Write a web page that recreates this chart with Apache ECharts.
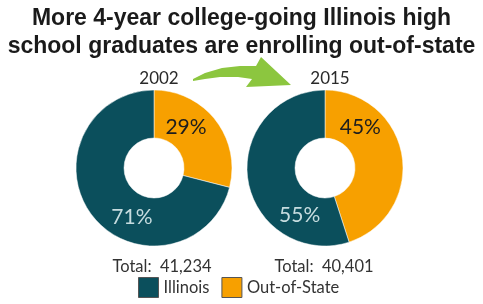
<!DOCTYPE html>
<html>
<head>
<meta charset="utf-8">
<script src="https://cdn.jsdelivr.net/npm/echarts@6/dist/echarts.min.js"></script>
<style>
  html, body { margin: 0; padding: 0; background: #fff; }
  #chart1 { width: 483px; height: 304px; }
</style>
</head>
<body>
<div id="chart1"></div>
<script>
// data
var years = ['2002', '2015'];
var groups = ['Out-of-State', 'Illinois'];
var outOfState = [29, 45];
var illinois = [71, 55];
var totals = ['41,234', '40,401'];

var teal = '#0b4f5c';
var orange = '#f7a000';

var chart = echarts.init(document.getElementById('chart1'));

var centers = [[154, 168], [325, 168]];
// nudges so the % labels sit where the original put them
var outOffset = [[-13, -6], [-21, -32]];
var ilOffset = [[23, 14], [31, 38]];

var series = years.map(function (y, i) {
  return {
    name: y,
    type: 'pie',
    center: centers[i],
    radius: [30, 78],
    startAngle: 90,
    clockwise: true,
    animation: false,
    silent: true,
    itemStyle: { borderColor: '#fff', borderWidth: 0.5 },
    labelLine: { show: false },
    label: {
      show: true,
      position: 'inside',
      formatter: '{c}%',
      fontFamily: 'Lato',
      fontSize: 21
    },
    data: [
      { name: groups[0], value: outOfState[i], itemStyle: { color: orange },
        label: { color: '#1d1d1d', offset: outOffset[i] } },
      { name: groups[1], value: illinois[i], itemStyle: { color: teal },
        label: { color: '#c6dcdf', offset: ilOffset[i] } }
    ]
  };
});

var titles = [{
  text: 'More 4-year college-going Illinois high\nschool graduates are enrolling out-of-state',
  left: 'center',
  top: 0,
  textStyle: { fontFamily: 'Liberation Sans', fontWeight: 'bold', fontSize: 23, lineHeight: 28, color: '#1a1a1a' }
}];
years.forEach(function (y, i) {
  titles.push({
    text: y,
    left: centers[i][0],
    top: 65,
    textAlign: 'center',
    textStyle: { fontFamily: 'Lato', fontWeight: 'normal', fontSize: 17, color: '#2a2a2a' }
  });
  titles.push({
    text: 'Total:  ' + totals[i],
    left: centers[i][0] + (i === 0 ? 3 : -6),
    top: 253,
    textAlign: 'center',
    textStyle: { fontFamily: 'Lato', fontWeight: 'normal', fontSize: 16.5, color: '#333' }
  });
});

chart.setOption({
  backgroundColor: '#fff',
  title: titles,
  legend: {
    data: [groups[1], groups[0]],
    bottom: 1,
    left: 133,
    icon: 'rect',
    itemWidth: 20,
    itemHeight: 20,
    itemGap: 12,
    itemStyle: { borderColor: '#555', borderWidth: 1 },
    textStyle: { fontFamily: 'Lato', fontSize: 16.5, color: '#333' }
  },
  graphic: [{
    // green curved arrow between the two years
    type: 'polygon',
    silent: true,
    shape: {
      points: [[193, 79], [205, 73], [222, 68], [240, 66], [256, 66],
               [261, 57], [291, 85], [246, 87], [252, 79],
               [238, 77], [220, 77], [205, 79], [193, 81]]
    },
    style: { fill: '#8cc63f' }
  }],
  series: series
});
</script>
</body>
</html>
